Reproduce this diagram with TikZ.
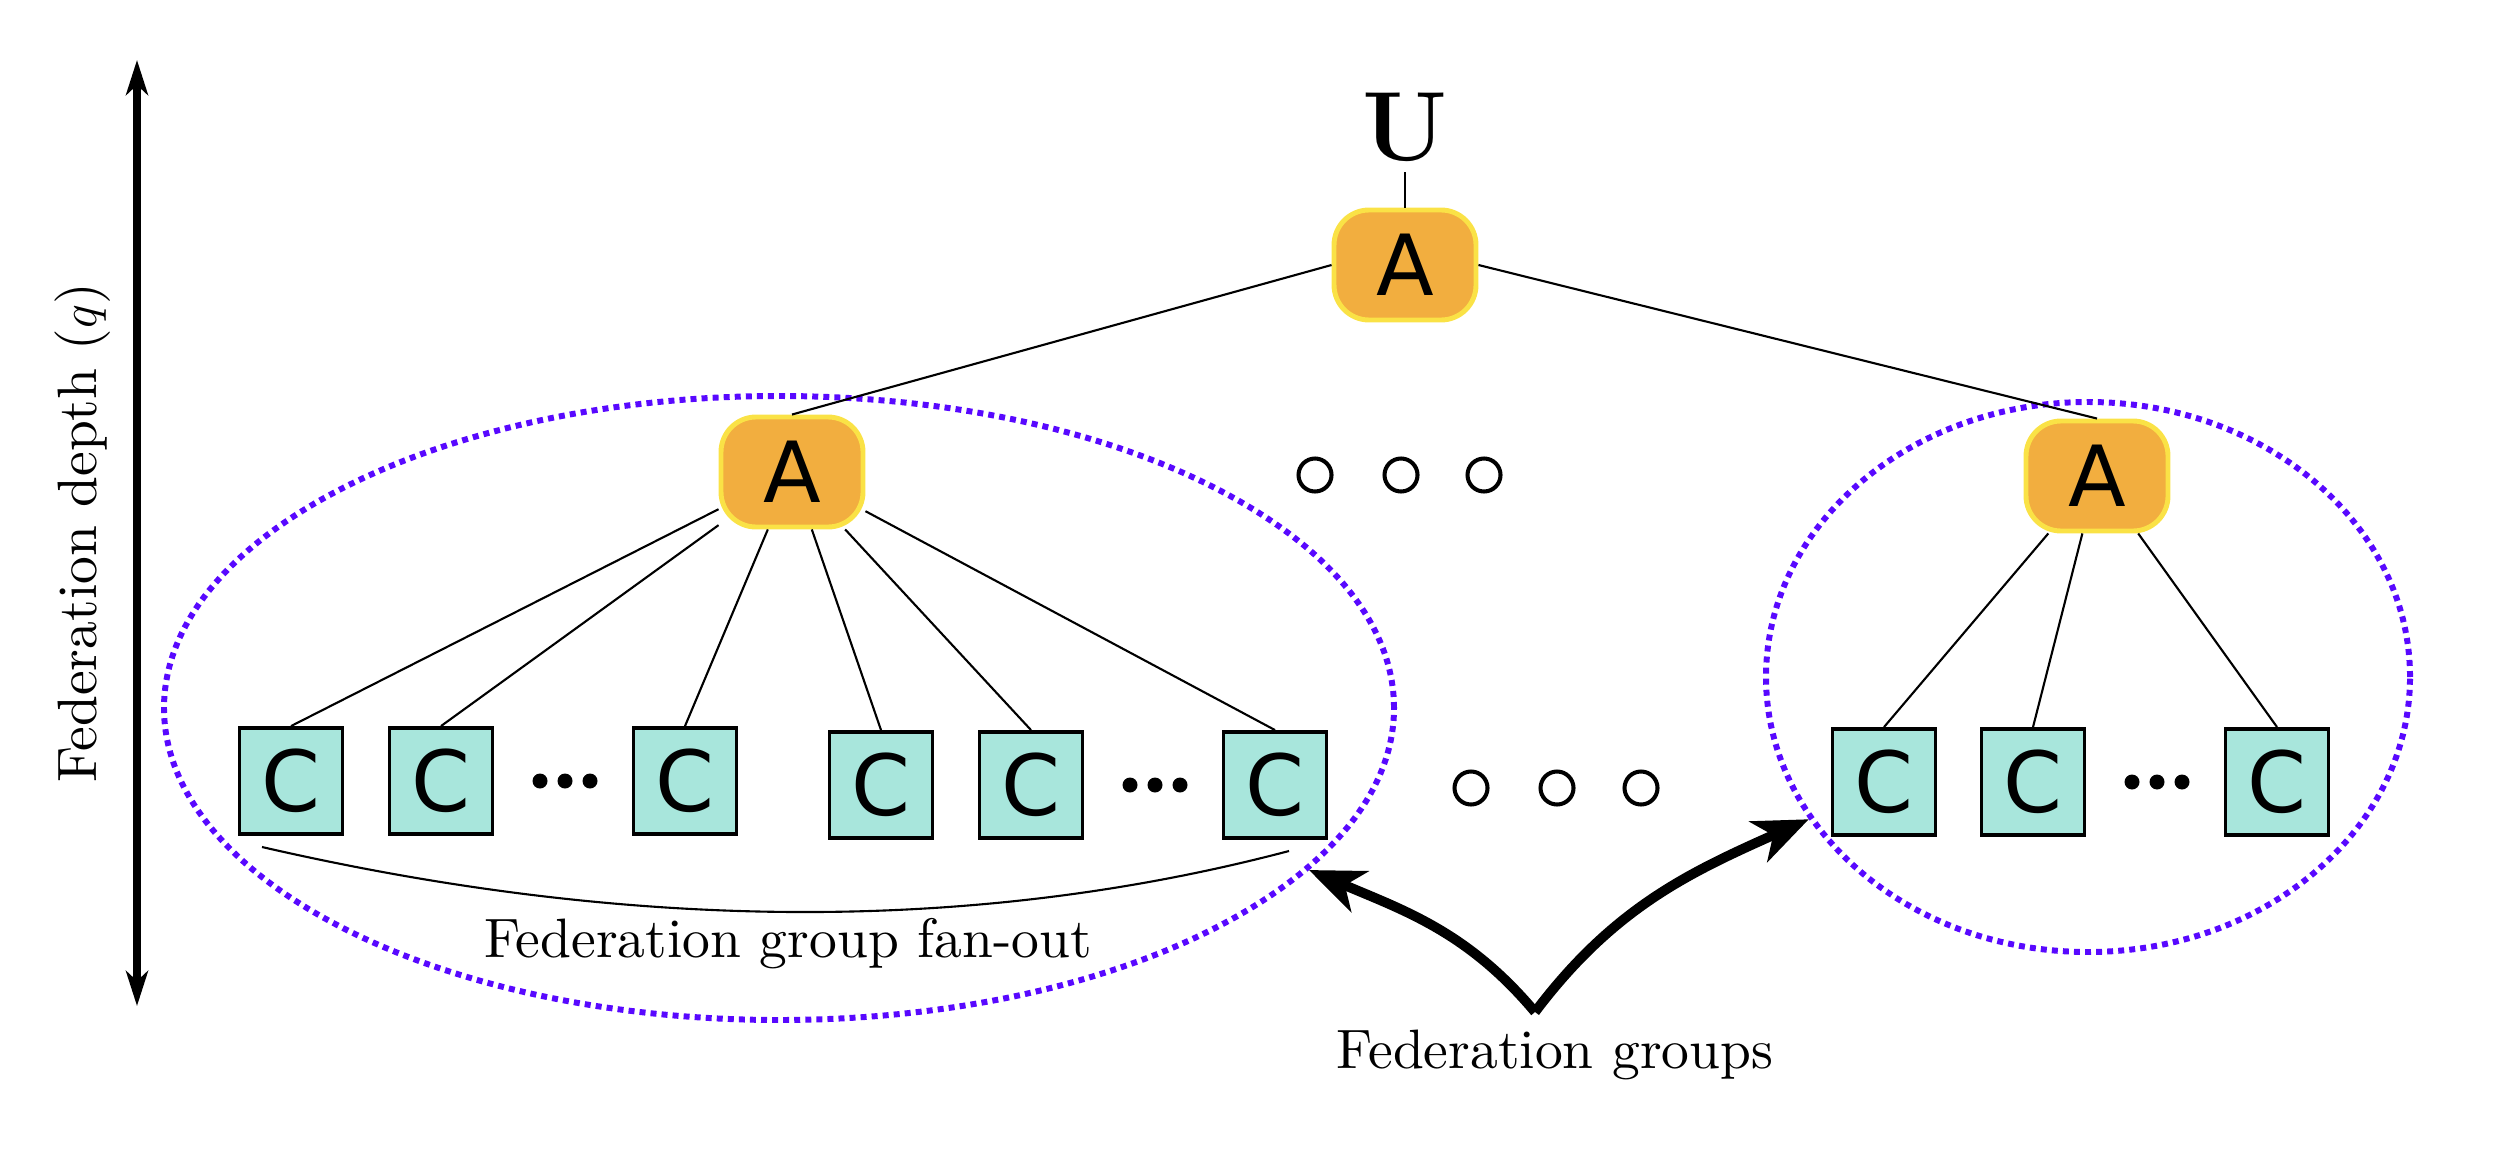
\documentclass[tikz,border=0pt]{standalone}
\usepackage{fontspec}
\usepackage{tikz}
\usetikzlibrary{shapes.geometric,arrows.meta}
\newfontfamily\boxfont{DejaVu Sans}
\newfontfamily\labelfont{lmroman10-regular.otf}
\definecolor{aggfill}{RGB}{242,174,63}
\definecolor{aggline}{RGB}{250,226,70}
\definecolor{clifill}{RGB}{168,230,220}
\definecolor{grpline}{RGB}{88,8,255}

\begin{document}
\begin{tikzpicture}[
  agg/.style={draw=aggline,fill=aggfill,line width=1.4pt,rounded corners=0.35cm,minimum width=1.42cm,minimum height=1.10cm,inner sep=0pt,font=\boxfont\fontsize{24}{24}\selectfont},
  cli/.style={draw=black,fill=clifill,line width=1.1pt,minimum width=1.03cm,minimum height=1.06cm,inner sep=0pt,font=\boxfont\fontsize{24}{24}\selectfont},
  grp/.style={draw=grpline,ellipse,line width=1.7pt,dash pattern=on 1.7pt off 1.45pt,inner sep=0pt},
  lbl/.style={font=\labelfont\fontsize{15.8}{19}\selectfont},
  link/.style={line width=0.6pt},
  more/.style={draw,line width=1.15pt},
  big/.style={line width=2.8pt,-{Stealth[length=5.5mm,width=4.4mm,inset=1.6mm]}}
]
\useasboundingbox (0,0) rectangle (25.18,11.48);

\node[grp,minimum width=12.30cm,minimum height=6.24cm] (grpL) at (7.79,4.40) {};
\node[grp,minimum width=6.44cm,minimum height=5.50cm] (grpR) at (20.88,4.71) {};

\node[inner sep=1mm,font=\fontsize{28}{28}\selectfont\bfseries] (u) at (14.05,10.21) {U};
\node[agg] (aggT) at (14.05,8.83) {A};
\node[agg] (aggL) at (7.92,6.76) {A};
\node[agg] (aggR) at (20.97,6.72) {A};

\node[cli] (cL1) at (2.91,3.67) {C};
\node[cli] (cL2) at (4.41,3.67) {C};
\node[cli] (cL3) at (6.85,3.67) {C};
\node[cli] (cL4) at (8.81,3.63) {C};
\node[cli] (cL5) at (10.31,3.63) {C};
\node[cli] (cL6) at (12.75,3.63) {C};
\node[cli] (cR1) at (18.84,3.66) {C};
\node[cli] (cR2) at (20.33,3.66) {C};
\node[cli] (cR3) at (22.77,3.66) {C};

\fill (5.40,3.67) circle (0.075) (5.65,3.67) circle (0.075) (5.90,3.67) circle (0.075);
\fill (11.30,3.63) circle (0.075) (11.55,3.63) circle (0.075) (11.80,3.63) circle (0.075);
\fill (21.32,3.66) circle (0.075) (21.57,3.66) circle (0.075) (21.82,3.66) circle (0.075);

\path[more] (13.15,6.73) circle (0.165) (14.01,6.73) circle (0.165) (14.84,6.73) circle (0.165);
\path[more] (14.71,3.60) circle (0.165) (15.57,3.60) circle (0.165) (16.41,3.60) circle (0.165);

\draw[link] (u) -- (aggT);
\draw[link] (aggT.west) -- (aggL.north);
\draw[link] (aggT.east) -- (aggR.north);
\draw[link] (aggL) -- (cL1.north);
\draw[link] (aggL) -- (cL2.north);
\draw[link] (aggL) -- (cL3.north);
\draw[link] (aggL) -- (cL4.north);
\draw[link] (aggL) -- (cL5.north);
\draw[link] (aggL) -- (cL6.north);
\draw[link] (aggR) -- (cR1.north);
\draw[link] (aggR) -- (cR2.north);
\draw[link] (aggR) -- (cR3.north);

\coordinate (braceL) at (2.62,3.01);
\coordinate (braceR) at (12.89,2.97);
\draw[link] (braceL) .. controls (6.31,2.16) and (9.74,2.14) .. (braceR);
\node[lbl] (fanout) at (7.88,2.04) {Federation group fan-out};

\node[lbl] (groups) at (15.55,0.93) {Federation groups};
\coordinate (fork) at (15.35,1.36);
\draw[big] (fork) to[out=130,in=-23] (grpL.-17);
\draw[big] (fork) to[out=53,in=204] (grpR.207);

\coordinate (depthTop) at (1.37,10.88);
\coordinate (depthBot) at (1.37,1.42);
\draw[line width=2.2pt,{Stealth[length=3.5mm,width=2.2mm,inset=1mm]}-{Stealth[length=3.5mm,width=2.2mm,inset=1mm]}] (depthTop) -- (depthBot);
\node[lbl,rotate=90] (depth) at (0.83,6.15) {Federation depth ($q$)};
\end{tikzpicture}
\end{document}
